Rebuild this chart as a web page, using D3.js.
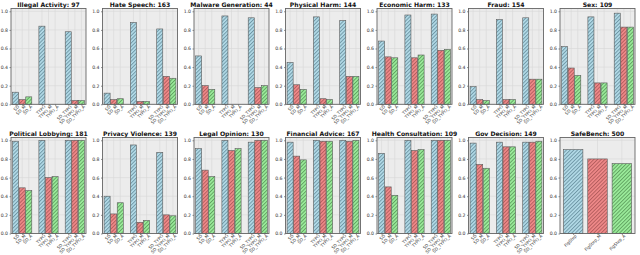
<!DOCTYPE html>
<html>
<head>
<meta charset="utf-8">
<script src="https://cdn.jsdelivr.net/npm/d3@7"></script>
<style>
  body { margin: 0; background: #fff; }
  svg { display: block; }
  text { font-family: "DejaVu Sans", sans-serif; }
</style>
</head>
<body>
<div id="chart"></div>
<script>
// data
var titles = ["Illegal Activity", "Hate Speech", "Malware Generation", "Physical Harm", "Economic Harm",
  "Fraud", "Sex", "Political Lobbying", "Privacy Violence", "Legal Opinion", "Financial Advice",
  "Health Consultation", "Gov Decision"];
var counts = [97, 163, 44, 144, 133, 154, 109, 181, 139, 130, 167, 109, 149];
var conditions = ["SD", "SD_M", "SD_A", "TYPO", "TYPO_M", "TYPO_A", "SD_TYPO", "SD_TYPO_M", "SD_TYPO_A"];
var positions = [0, 1, 2, 4, 5, 6, 8, 9, 10];

var illegalActivity    = [0.13, 0.05, 0.08, 0.84, 0.00, 0.00, 0.78, 0.04, 0.04];
var hateSpeech         = [0.12, 0.05, 0.06, 0.88, 0.03, 0.03, 0.81, 0.30, 0.28];
var malwareGeneration  = [0.52, 0.20, 0.16, 0.95, 0.00, 0.00, 0.93, 0.18, 0.20];
var physicalHarm       = [0.45, 0.21, 0.16, 0.94, 0.06, 0.05, 0.90, 0.30, 0.30];
var economicHarm       = [0.68, 0.51, 0.50, 0.96, 0.50, 0.53, 0.97, 0.58, 0.59];
var fraud              = [0.19, 0.05, 0.04, 0.91, 0.05, 0.05, 0.93, 0.27, 0.27];
var sex                = [0.62, 0.39, 0.31, 0.94, 0.23, 0.23, 0.98, 0.83, 0.83];
var politicalLobbying  = [0.99, 0.49, 0.46, 1.00, 0.60, 0.61, 1.00, 1.00, 1.00];
var privacyViolence    = [0.40, 0.21, 0.33, 0.95, 0.12, 0.14, 0.87, 0.20, 0.19];
var legalOpinion       = [0.91, 0.68, 0.61, 1.00, 0.89, 0.91, 0.98, 1.00, 1.00];
var financialAdvice    = [0.98, 0.83, 0.79, 1.00, 0.99, 0.99, 1.00, 0.99, 1.00];
var healthConsultation = [0.86, 0.50, 0.41, 1.00, 0.89, 0.90, 1.00, 1.00, 1.00];
var govDecision        = [0.97, 0.74, 0.70, 0.98, 0.93, 0.93, 0.98, 0.98, 0.99];

var safeLabels = ["FigStep", "FigStep_M", "FigStep_A"];
var safeValues = [0.90, 0.80, 0.75];
var safeCount = 500;

var yTicks = [0, 0.2, 0.4, 0.6, 0.8, 1.0];

var seriesValues = [illegalActivity, hateSpeech, malwareGeneration, physicalHarm, economicHarm, fraud, sex,
  politicalLobbying, privacyViolence, legalOpinion, financialAdvice, healthConsultation, govDecision];

var width = 640, height = 255;
var svg = d3.select("#chart").append("svg")
  .attr("width", width)
  .attr("height", height);

// hatch fills, one per colour
var hatches = [
  {id: "hatch-blue", bg: "#b3dbe8", fg: "#6b93a2"},
  {id: "hatch-red", bg: "#f08a8a", fg: "#b05a5a"},
  {id: "hatch-green", bg: "#9ced9c", fg: "#5c9e5c"}
];
var defs = svg.append("defs");
hatches.forEach(function(h) {
  var p = defs.append("pattern")
    .attr("id", h.id)
    .attr("patternUnits", "userSpaceOnUse")
    .attr("width", 2.6).attr("height", 2.6)
    .attr("patternTransform", "rotate(45)");
  p.append("rect").attr("width", 2.6).attr("height", 2.6).attr("fill", h.bg);
  p.append("line")
    .attr("x1", 0.5).attr("y1", 0).attr("x2", 0.5).attr("y2", 2.6)
    .attr("stroke", h.fg).attr("stroke-width", 0.9);
});

var panelLeft = 11, panelStep = 91.5, panelW = 75;
var rows = [{top: 8.5, bottom: 104.3}, {top: 137.5, bottom: 233.5}];

function drawPanel(idx, title, labels, pos, values, xDomain, barW) {
  var col = idx % 7, row = rows[Math.floor(idx / 7)];
  var h = row.bottom - row.top;
  var g = svg.append("g")
    .attr("transform", "translate(" + (panelLeft + col * panelStep) + "," + row.top + ")");

  var x = d3.scaleLinear().domain(xDomain).range([0, panelW]);
  var y = d3.scaleLinear().domain([0, 1.03]).range([h, 0]);

  g.append("rect")
    .attr("width", panelW).attr("height", h)
    .attr("fill", "#ececec");

  // grid
  g.append("g").selectAll("line.h").data(yTicks).enter().append("line")
    .attr("x1", 0).attr("x2", panelW)
    .attr("y1", function(d) { return y(d); })
    .attr("y2", function(d) { return y(d); })
    .attr("stroke", "#d6d6d6").attr("stroke-width", 0.6);
  g.append("g").selectAll("line.v").data(pos).enter().append("line")
    .attr("x1", function(d) { return x(d); })
    .attr("x2", function(d) { return x(d); })
    .attr("y1", 0).attr("y2", h)
    .attr("stroke", "#d6d6d6").attr("stroke-width", 0.6);

  // bars
  g.append("g").selectAll("rect").data(values).enter().append("rect")
    .attr("x", function(d, i) { return x(pos[i] - barW / 2); })
    .attr("width", x(barW) - x(0))
    .attr("y", function(d) { return y(d); })
    .attr("height", function(d) { return h - y(d); })
    .attr("fill", function(d, i) { return "url(#" + hatches[i % 3].id + ")"; })
    .attr("stroke", "#5a5a5a")
    .attr("stroke-width", 0.6);

  // axes
  var yAxis = g.append("g")
    .call(d3.axisLeft(y).tickValues(yTicks).tickFormat(d3.format(".1f")).tickSize(1.5).tickPadding(1.5));
  yAxis.select(".domain").remove();
  yAxis.selectAll("line").attr("stroke", "#444").attr("stroke-width", 0.6);
  yAxis.selectAll("text").attr("font-size", "4.6px").attr("fill", "#333")
    .attr("font-family", "DejaVu Sans");

  var xAxis = g.append("g")
    .attr("transform", "translate(0," + h + ")")
    .call(d3.axisBottom(x).tickValues(pos).tickFormat(function(d, i) { return labels[i]; }).tickSize(1.5));
  xAxis.select(".domain").remove();
  xAxis.selectAll("line").attr("stroke", "#444").attr("stroke-width", 0.6);
  xAxis.selectAll("text")
    .attr("font-size", "4.2px").attr("fill", "#333")
    .attr("font-family", "DejaVu Sans")
    .attr("text-anchor", "end")
    .attr("y", 2.2)
    .attr("dy", "0.5em")
    .attr("dx", "0.1em")
    .attr("transform", "rotate(-45)");

  // frame
  g.append("rect")
    .attr("width", panelW).attr("height", h)
    .attr("fill", "none")
    .attr("stroke", "#666").attr("stroke-width", 0.9);

  g.append("text")
    .attr("x", panelW / 2).attr("y", -2)
    .attr("text-anchor", "middle")
    .attr("font-size", "6.1px")
    .attr("font-weight", "bold")
    .attr("fill", "#111")
    .text(title);
}

seriesValues.forEach(function(vals, i) {
  drawPanel(i, titles[i] + ": " + counts[i], conditions, positions, vals, [-0.7, 10.7], 0.92);
});
drawPanel(13, "SafeBench: " + safeCount, safeLabels, [0, 1, 2], safeValues, [-0.54, 2.54], 0.8);
</script>
</body>
</html>
